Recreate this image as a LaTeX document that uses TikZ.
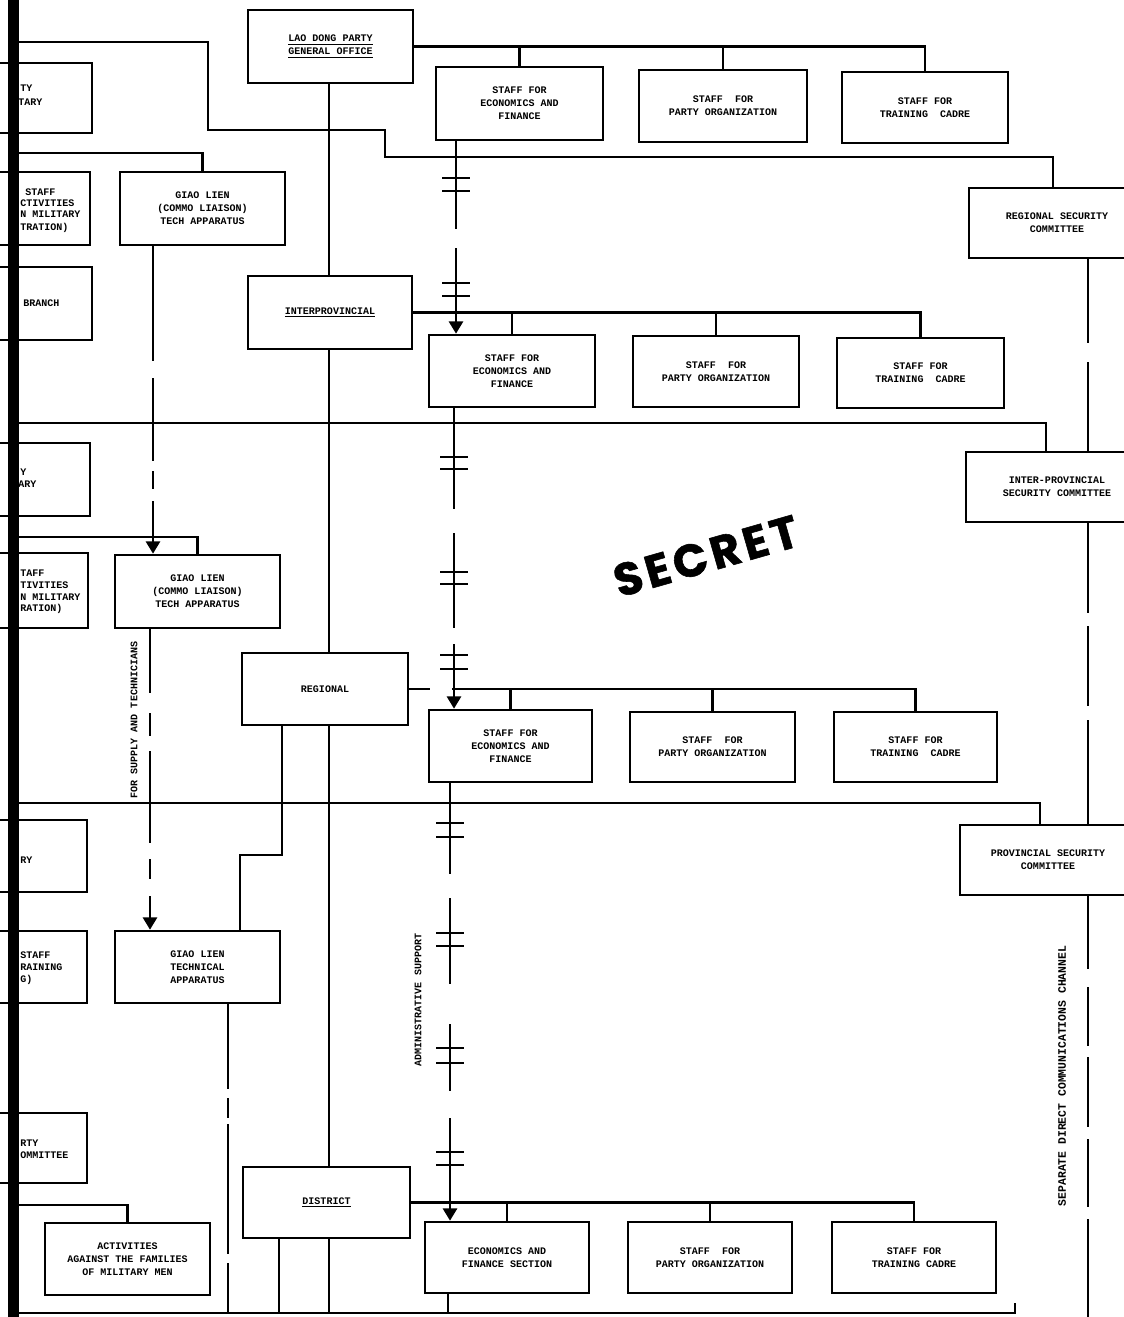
\documentclass[tikz,border=0pt]{standalone}
\usepackage{fontspec}
\newfontfamily\twfont{Liberation Mono}
\newfontfamily\stampfont{Poppins}[LetterSpace=9,BoldFeatures={FakeBold=1.2}]
\usetikzlibrary{arrows.meta}
\tikzset{
 lw/.style={line width=1.5pt},
 bx/.style={draw, line width=1.5pt, rectangle, inner sep=1pt, align=center, font=\twfont\bfseries\fontsize{5.7}{7.4}\selectfont},
 pbx/.style={draw, line width=1.5pt, rectangle, inner sep=0pt},
 frag/.style={anchor=west, inner sep=0pt, font=\twfont\bfseries\fontsize{5.7}{7.4}\selectfont},
 lbl/.style={inner sep=0pt, font=\twfont\bfseries\fontsize{5.7}{7.4}\selectfont},
 arr/.style={-{Triangle[width=8pt,length=7pt]}},
 tk/.style={line width=1.5pt},
}
\begin{document}
\begin{tikzpicture}[x=0.02cm,y=-0.02cm]
\useasboundingbox (0,0) rectangle (1124,1317);
\fill[white] (0,0) rectangle (1124,1317);
\clip (0,0) rectangle (1124,1317);

% ---------- central column ----------
\node[bx, minimum width=3.30cm, minimum height=1.46cm] (top) at (330.5,46.5) {\underline{LAO DONG PARTY}\\\underline{GENERAL OFFICE}};
\node[bx, minimum width=3.28cm, minimum height=1.46cm] (interprov) at (330,312.5) {\underline{INTERPROVINCIAL}};
\node[bx, minimum width=3.32cm, minimum height=1.44cm] (regional) at (325,689) {REGIONAL};
\node[bx, minimum width=3.34cm, minimum height=1.42cm] (district) at (326.5,1202.5) {\underline{DISTRICT}};

% ---------- staff rows ----------
\node[bx, minimum width=3.34cm, minimum height=1.46cm] (econ1) at (519.5,103.5) {STAFF FOR\\ECONOMICS AND\\FINANCE};
\node[bx, minimum width=3.36cm, minimum height=1.44cm] (party1) at (723,106) {STAFF\ \ FOR\\PARTY ORGANIZATION};
\node[bx, minimum width=3.32cm, minimum height=1.42cm] (train1) at (925,107.5) {STAFF FOR\\TRAINING\ \ CADRE};

\node[bx, minimum width=3.32cm, minimum height=1.44cm] (econ2) at (512,371) {STAFF FOR\\ECONOMICS AND\\FINANCE};
\node[bx, minimum width=3.32cm, minimum height=1.42cm] (party2) at (716,371.5) {STAFF\ \ FOR\\PARTY ORGANIZATION};
\node[bx, minimum width=3.34cm, minimum height=1.40cm] (train2) at (920.5,373) {STAFF FOR\\TRAINING\ \ CADRE};

\node[bx, minimum width=3.26cm, minimum height=1.44cm] (econ3) at (510.5,746) {STAFF FOR\\ECONOMICS AND\\FINANCE};
\node[bx, minimum width=3.30cm, minimum height=1.40cm] (party3) at (712.5,747) {STAFF\ \ FOR\\PARTY ORGANIZATION};
\node[bx, minimum width=3.26cm, minimum height=1.40cm] (train3) at (915.5,747) {STAFF FOR\\TRAINING\ \ CADRE};

\node[bx, minimum width=3.28cm, minimum height=1.42cm] (econ4) at (507,1257.5) {ECONOMICS AND\\FINANCE SECTION};
\node[bx, minimum width=3.28cm, minimum height=1.42cm] (party4) at (710,1257.5) {STAFF\ \ FOR\\PARTY ORGANIZATION};
\node[bx, minimum width=3.28cm, minimum height=1.42cm] (train4) at (914,1257.5) {STAFF FOR\\TRAINING CADRE};

% ---------- security committees ----------
\node[bx, minimum width=3.52cm, minimum height=1.40cm] (regsec) at (1057,223) {REGIONAL SECURITY\\COMMITTEE};
\node[bx, minimum width=3.64cm, minimum height=1.40cm] (interprovsec) at (1057,487) {INTER-PROVINCIAL\\SECURITY COMMITTEE};
\node[bx, minimum width=3.52cm, minimum height=1.40cm] (provsec) at (1048,860) {PROVINCIAL SECURITY\\COMMITTEE};

% ---------- giao lien ----------
\node[bx, minimum width=3.30cm, minimum height=1.46cm] (giao1) at (202.5,208.5) {GIAO LIEN\\(COMMO LIAISON)\\TECH APPARATUS};
\node[bx, minimum width=3.30cm, minimum height=1.46cm] (giao2) at (197.5,591.5) {GIAO LIEN\\(COMMO LIAISON)\\TECH APPARATUS};
\node[bx, minimum width=3.30cm, minimum height=1.44cm] (giao3) at (197.5,967) {GIAO LIEN\\TECHNICAL\\APPARATUS};
\node[bx, minimum width=3.30cm, minimum height=1.44cm] (activ) at (127.5,1259) {ACTIVITIES\\AGAINST THE FAMILIES\\OF MILITARY MEN};

% ---------- partial boxes at the left edge ----------
\node[pbx, minimum width=3.44cm, minimum height=1.40cm] (l1) at (6,98) {};
\node[pbx, minimum width=3.40cm, minimum height=1.46cm] (l2) at (5,208.5) {};
\node[pbx, minimum width=3.44cm, minimum height=1.46cm] (l3) at (6,303.5) {};
\node[pbx, minimum width=3.40cm, minimum height=1.46cm] (l4) at (5,479.5) {};
\node[pbx, minimum width=3.40cm, minimum height=1.50cm] (l5) at (3,590.5) {};
\node[pbx, minimum width=3.40cm, minimum height=1.44cm] (l6) at (2,856) {};
\node[pbx, minimum width=3.40cm, minimum height=1.44cm] (l7) at (2,967) {};
\node[pbx, minimum width=3.40cm, minimum height=1.40cm] (l8) at (2,1148) {};

\node[frag] (f1a) at (20,88) {TY};
\node[frag] (f1b) at (18,102) {TARY};
\node[frag] (f2a) at (25,192) {STAFF};
\node[frag] (f2b) at (20,203) {CTIVITIES};
\node[frag] (f2c) at (20,214) {N MILITARY};
\node[frag] (f2d) at (20,228) {TRATION)};
\node[frag] (f3) at (23,303) {BRANCH};
\node[frag] (f4a) at (20,472) {Y};
\node[frag] (f4b) at (18,484) {ARY};
\node[frag] (f5a) at (20,573) {TAFF};
\node[frag] (f5b) at (20,585) {TIVITIES};
\node[frag] (f5c) at (20,597) {N MILITARY};
\node[frag] (f5d) at (20,609) {RATION)};
\node[frag] (f6) at (20,860) {RY};
\node[frag] (f7a) at (20,955) {STAFF};
\node[frag] (f7b) at (20,967) {RAINING};
\node[frag] (f7c) at (20,980) {G)};
\node[frag] (f8a) at (20,1143) {RTY};
\node[frag] (f8b) at (20,1155) {OMMITTEE};

% ---------- rotated labels and stamp ----------
\node[lbl, rotate=90] (supl) at (134,720) {FOR SUPPLY AND TECHNICIANS};
\node[lbl, rotate=90] (adml) at (418,1000) {ADMINISTRATIVE SUPPORT};
\node[lbl, rotate=90, font=\twfont\bfseries\fontsize{6.5}{7.4}\selectfont] (sepl) at (1062,1076) {SEPARATE DIRECT COMMUNICATIONS CHANNEL};
\node[rotate=16, inner sep=0pt, font=\stampfont\bfseries\fontsize{26}{26}\selectfont] (stamp) at (706,556) {SECRET};

% ---------- coordinates ----------
\coordinate (vx) at (329,0);
\coordinate (bot) at (0,1313);
\coordinate (botedge) at (0,1317);
\coordinate (c1) at (19,42);
\coordinate (c2) at (19,153);
\coordinate (c3) at (19,423);
\coordinate (c4) at (19,537);
\coordinate (c5) at (19,803);
\coordinate (c6) at (19,1205);
\coordinate (c7) at (19,1313);
\coordinate (d1) at (1053,157);
\coordinate (d3) at (1046,423);
\coordinate (d5) at (1040,803);
\coordinate (d7) at (1015,1313);
\coordinate (rx2) at (282,855);
\coordinate (rx3) at (240,855);
\coordinate (dx2) at (279,1313);
\coordinate (r3a) at (430,689);
\coordinate (b3) at (452,689);
\coordinate (rx) at (1088,0);
\coordinate (a1) at (456,0);
\coordinate (a2) at (454,0);
\coordinate (a3) at (450,0);
\coordinate (a4) at (448,0);
\coordinate (g1x) at (153,0);
\coordinate (g2x) at (150,0);
\coordinate (g3x) at (228,0);

% ---------- main vertical chain ----------
\draw[lw] (top.south -| vx) -- (interprov.north -| vx);
\draw[lw] (interprov.south -| vx) -- (regional.north -| vx);
\draw[lw] (regional.south -| vx) -- (district.north -| vx);
\draw[lw] (district.south -| vx) -- (vx |- bot);
\draw[lw] (rx2 |- regional.south) -- (rx2) -- (rx3) -- (rx3 |- giao3.north);
\draw[lw] (dx2 |- district.south) -- (dx2);

% ---------- staff buses ----------
\draw[lw] (top.east) -| (train1.north);
\draw[lw] (econ1.north) -- (econ1.north |- top.east);
\draw[lw] (party1.north) -- (party1.north |- top.east);

\draw[lw] (interprov.east) -| (train2.north);
\draw[lw] (econ2.north) -- (econ2.north |- interprov.east);
\draw[lw] (party2.north) -- (party2.north |- interprov.east);

\draw[lw] (regional.east) -- (r3a);
\draw[lw] (b3) -| (train3.north);
\draw[lw] (econ3.north) -- (econ3.north |- b3);
\draw[lw] (party3.north) -- (party3.north |- b3);

\draw[lw] (district.east) -| (train4.north);
\draw[lw] (econ4.north) -- (econ4.north |- district.east);
\draw[lw] (party4.north) -- (party4.north |- district.east);

% ---------- lines from the left edge ----------
\draw[lw] (c1) -- (208,42) -- (208,130) -- (385,130) |- (d1) -- (d1 |- regsec.north);
\draw[lw] (c2) -| (giao1.north);
\draw[lw] (c3) -- (d3) -- (d3 |- interprovsec.north);
\draw[lw] (c4) -| (giao2.north);
\draw[lw] (c5) -- (d5) -- (d5 |- provsec.north);
\draw[lw] (c6) -| (activ.north);
\draw[lw] (c7) -- (d7) -- ++(0,-10);

% ---------- separate direct communications channel ----------
\draw[lw, dash pattern=on 47.8pt off 10.8pt on 70pt] (regsec.south -| rx) -- (interprovsec.north -| rx);
\draw[lw, dash pattern=on 51.2pt off 7.4pt on 45.5pt off 8pt on 70pt] (interprovsec.south -| rx) -- (provsec.north -| rx);
\draw[lw, dash pattern=on 41.5pt off 10.2pt on 33.6pt off 6.3pt on 39.8pt off 6.8pt on 38.7pt off 6.8pt on 60pt] (provsec.south -| rx) -- (rx |- botedge);

% ---------- administrative support ----------
\draw[lw, arr, dash pattern=on 50.1pt off 10.8pt on 60pt] (econ1.south -| a1) -- (econ2.north -| a1);
\draw[lw, arr, dash pattern=on 57.5pt off 13.7pt on 54.1pt off 9.1pt on 57pt] (econ2.south -| a2) -- (econ3.north -| a2);
\draw[lw, arr, dash pattern=on 51.8pt off 13.7pt on 48.9pt off 22.8pt on 38.1pt off 15.4pt on 62.6pt] (econ3.south -| a3) -- (econ4.north -| a3);
\draw[lw] (econ4.south -| a4) -- (a4 |- bot);
\foreach \yy in {178,191,283,296} {\draw[tk] (442,\yy) -- (470,\yy);}
\foreach \yy in {457,469,572,584,655,669} {\draw[tk] (440,\yy) -- (468,\yy);}
\foreach \yy in {823,837,933,946,1048,1063,1152,1165} {\draw[tk] (436,\yy) -- (464,\yy);}

% ---------- giao lien channels ----------
\draw[lw, arr, dash pattern=on 65.4pt off 9.7pt on 47.2pt off 5.7pt on 10.2pt off 6.8pt on 40pt] (giao1.south -| g1x) -- (giao2.north -| g1x);
\draw[lw, arr, dash pattern=on 36.4pt off 11.4pt on 13.1pt off 8.5pt on 52.3pt off 9.1pt on 11.4pt off 9.7pt on 40pt] (giao2.south -| g2x) -- (giao3.north -| g2x);
\draw[lw, dash pattern=on 48.4pt off 5.1pt on 11.4pt off 3.4pt on 74pt off 5.1pt on 40pt] (giao3.south -| g3x) -- (g3x |- bot);

% ---------- left black edge ----------
\fill[black] (8,0) rectangle (19,1317);
\end{tikzpicture}
\end{document}
